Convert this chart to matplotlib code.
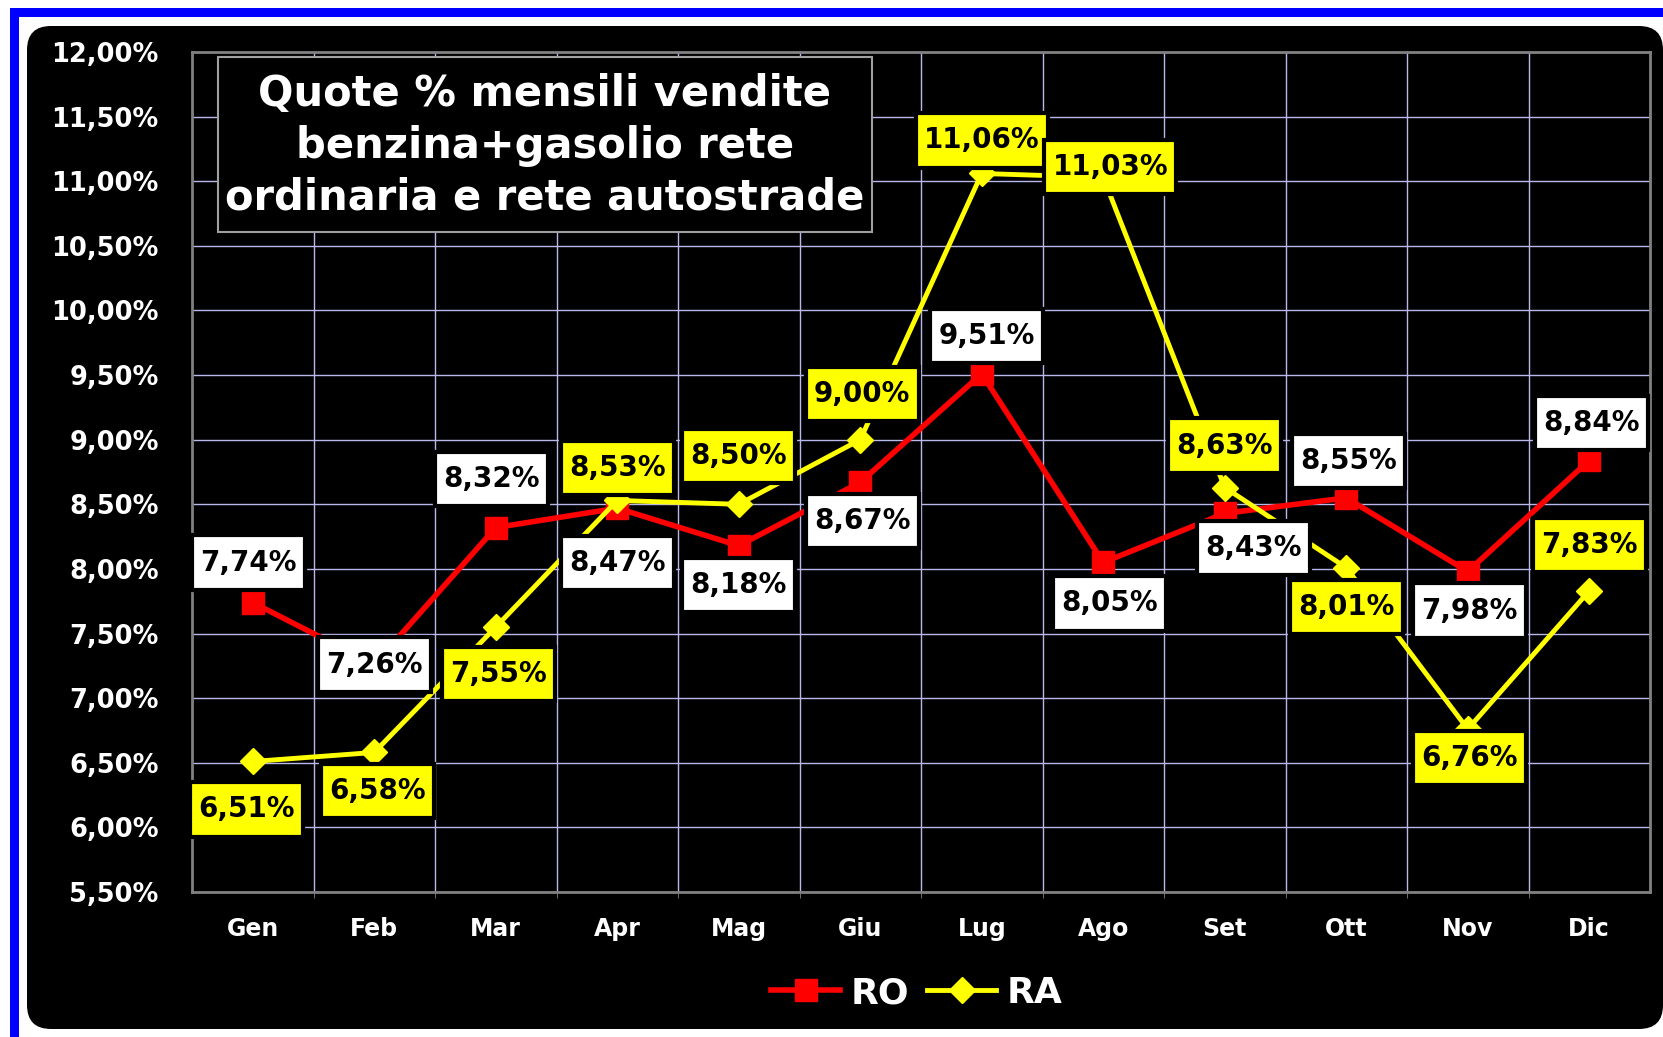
import matplotlib
matplotlib.use("Agg")
import matplotlib.pyplot as plt
from matplotlib.patches import FancyBboxPatch, Rectangle
from matplotlib.lines import Line2D
from matplotlib.path import Path
from matplotlib.ticker import FixedLocator

plt.rcParams['font.family'] = ['DejaVu Sans']

months = ["Gen", "Feb", "Mar", "Apr", "Mag", "Giu", "Lug", "Ago", "Set", "Ott", "Nov", "Dic"]
ro = [7.74, 7.26, 8.32, 8.47, 8.18, 8.67, 9.51, 8.05, 8.43, 8.55, 7.98, 8.84]
ra = [6.51, 6.58, 7.55, 8.53, 8.50, 9.00, 11.06, 11.03, 8.63, 8.01, 6.76, 7.83]
yticks = [5.5, 6.0, 6.5, 7.0, 7.5, 8.0, 8.5, 9.0, 9.5, 10.0, 10.5, 11.0, 11.5, 12.0]
title = "Quote % mensili vendite\nbenzina+gasolio rete\nordinaria e rete autostrade"

# label offsets in pixels (dx, dy)
ro_off = [(-4, 40), (0, 0), (-4, 49), (0, -55), (0, -39), (2, -39), (5, 38), (6, -41),
          (29, -35), (2, 37), (2, -39), (2, 37)]
ra_off = [(-6, -48), (3, -39), (3, -47), (0, 32), (0, 48), (2, 46), (0, 33), (7, 10),
          (0, 42), (0, -39), (2, -29), (0, 46)]


def padbox(x0, y0, width, height, mutation_size):
    px = 0.3 * mutation_size
    py = 0.47 * mutation_size
    xa, ya, xb, yb = x0 - px, y0 - py, x0 + width + px, y0 + height + py
    return Path([(xa, ya), (xb, ya), (xb, yb), (xa, yb), (xa, ya)], closed=True)


W, H = 1663, 1037
fig = plt.figure(figsize=(W / 100, H / 100), dpi=100)
fig.patch.set_facecolor("white")

# blue border (top and left)
fig.patches.append(Rectangle((10 / W, 1 - 17 / H), 1, 9 / H, transform=fig.transFigure,
                             facecolor="#0000ff", edgecolor="none", zorder=0))
fig.patches.append(Rectangle((10 / W, 0), 9 / W, 1 - 8 / H, transform=fig.transFigure,
                             facecolor="#0000ff", edgecolor="none", zorder=0))
# black rounded panel
r = 24
fig.patches.append(FancyBboxPatch(((27 + r) / W, (H - 1029 + r) / H),
                                  (1663 - 27 - 2 * r) / W, (1029 - 26 - 2 * r) / H,
                                  boxstyle=f"round,pad={r / W},rounding_size={r / W}",
                                  transform=fig.transFigure, facecolor="black",
                                  edgecolor="none", zorder=0, mutation_aspect=W / H))

ax = fig.add_axes([192 / W, 1 - 892 / H, (1650 - 192) / W, (892 - 52) / H])
ax.set_zorder(2)
ax.set_facecolor("black")
x = list(range(len(months)))
ax.set_xlim(-0.5, len(months) - 0.5)
ax.set_ylim(5.5, 12.0)

ax.set_yticks(yticks)
ax.set_yticklabels([f"{v:.2f}".replace(".", ",") + "%" for v in yticks])
ax.set_xticks(x)
ax.set_xticklabels(months)
ax.xaxis.set_minor_locator(FixedLocator([i + 0.5 for i in range(len(months) - 1)]))
ax.tick_params(axis="y", length=0, pad=24, labelsize=18.5, labelcolor="white")
ax.tick_params(axis="x", which="major", length=0, pad=18, labelsize=17, labelcolor="white")
ax.tick_params(axis="x", which="minor", length=4, color="#808080")
for lab in ax.get_xticklabels() + ax.get_yticklabels():
    lab.set_fontweight("bold")
ax.grid(True, axis="y", which="major", color="#b8b8ec", lw=1.0, zorder=0)
ax.grid(True, axis="x", which="minor", color="#b8b8ec", lw=1.0, zorder=0)
ax.grid(False, axis="x", which="major")
for s in ax.spines.values():
    s.set_color("#808080")
    s.set_linewidth(2)

ax.plot(x, ro, color="#ff0000", lw=4.0, marker="s", ms=16, mec="#ff0000", zorder=3, label="RO")
ax.plot(x, ra, color="#ffff00", lw=3.5, marker="D", ms=13, mec="#ffff00", zorder=3, label="RA")


def fmt(v):
    return f"{v:.2f}".replace(".", ",") + "%"


for i, v in enumerate(ro):
    ax.annotate(fmt(v), (i, v), xytext=ro_off[i], textcoords="offset pixels",
                ha="center", va="center", fontsize=20, fontweight="bold", color="black",
                bbox=dict(boxstyle=padbox, facecolor="white", edgecolor="black", lw=3),
                zorder=5)
for i, v in enumerate(ra):
    ax.annotate(fmt(v), (i, v), xytext=ra_off[i], textcoords="offset pixels",
                ha="center", va="center", fontsize=20, fontweight="bold", color="black",
                bbox=dict(boxstyle=padbox, facecolor="#ffff00", edgecolor="black", lw=3),
                zorder=5)

# title box
fig.patches.append(Rectangle((218 / W, 1 - 232 / H), (872 - 218) / W, (232 - 57) / H,
                             transform=fig.transFigure, facecolor="black",
                             edgecolor="#a0a0a0", lw=1.5, zorder=6))
fig.text(545 / W, 1 - 146 / H, title, ha="center", va="center", color="white",
         fontsize=30, fontweight="bold", linespacing=1.3, zorder=7)

handles = [Line2D([], [], color="#ff0000", lw=4.0, marker="s", ms=16),
           Line2D([], [], color="#ffff00", lw=3.5, marker="D", ms=13)]
leg = fig.legend(handles, ["RO", "RA"], loc="center", bbox_to_anchor=(917 / W, 1 - 993 / H),
                 ncol=2, frameon=False, handlelength=1.9, handletextpad=0.3,
                 columnspacing=0.5, prop=dict(size=26, weight="bold"))
leg.set_zorder(7)
for t in leg.get_texts():
    t.set_color("white")

fig.savefig("out.png", dpi=100, facecolor="white")
